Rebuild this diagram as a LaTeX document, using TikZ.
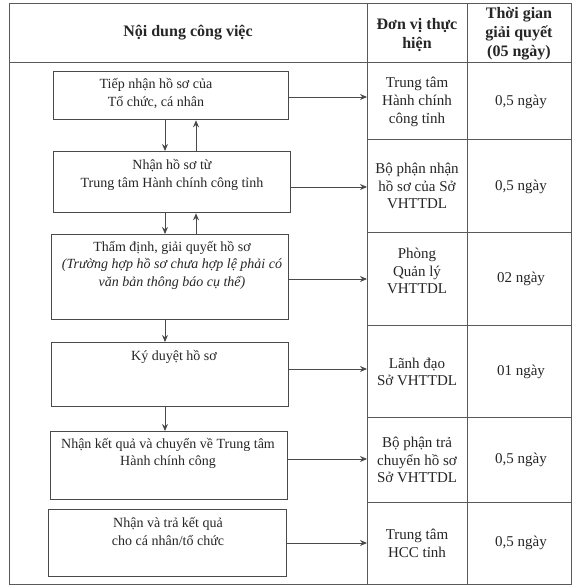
\documentclass[tikz,border=0pt]{standalone}
\usepackage{fontspec}
\setmainfont{Liberation Serif}
\usetikzlibrary{arrows.meta}
\definecolor{linegray}{HTML}{5A5A5A}
\definecolor{boxgray}{HTML}{4A4A4A}
\definecolor{inkc}{HTML}{262626}
\tikzset{
  tline/.style={draw=linegray, line width=0.9pt},
  stepbox/.style={draw=boxgray, line width=1.3pt, rectangle, inner sep=0pt, anchor=north west},
  txt/.style={inner sep=0pt, align=center, text=inkc, font=\fontsize{14}{17.5}\selectfont},
  ctxt/.style={txt, font=\fontsize{15}{17.8}\selectfont},
  htxt/.style={txt, font=\fontsize{16}{19}\selectfont\bfseries},
  arr/.style={draw=boxgray, line width=0.9pt, -{Stealth[length=7pt,width=6pt]}}
}
\begin{document}
\begin{tikzpicture}[x=1pt,y=-1pt]
\useasboundingbox (0,0) rectangle (576,588);
\fill[white] (0,0) rectangle (576,588);
% table frame
\coordinate (tl) at (9,3.5);
\coordinate (br) at (571,584);
\draw[tline] (tl) rectangle (br);
\draw[tline] (9,62) -- (571,62);
\draw[tline] (367,3.5) -- (367,584);
\draw[tline] (467,3.5) -- (467,584);
\foreach \yy in {139,232,325,417,502}{\draw[tline] (367,\yy) -- (571,\yy);}
% headers
\node[htxt] (h1) at (188,33) {Nội dung công việc};
\node[htxt] (h2) at (417,35) {Đơn vị thực\\hiện};
\node[htxt] (h3) at (519,34) {Thời gian\\giải quyết\\(05 ngày)};
% step boxes
\node[stepbox, minimum width=235pt, minimum height=48pt] (b1) at (53,71) {};
\node[stepbox, minimum width=237pt, minimum height=61pt] (b2) at (53,151) {};
\node[stepbox, minimum width=237pt, minimum height=85pt] (b3) at (51,234) {};
\node[stepbox, minimum width=237pt, minimum height=64pt] (b4) at (51,342) {};
\node[stepbox, minimum width=237pt, minimum height=68pt] (b5) at (50,431) {};
\node[stepbox, minimum width=238pt, minimum height=67pt] (b6) at (48,509) {};
% box texts
\node[txt] (t1) at (156,93.5) {Tiếp nhận hồ sơ của\\Tổ chức, cá nhân};
\node[txt] (t2) at (172,175) {Nhận hồ sơ từ\\Trung tâm Hành chính công tỉnh};
\node[txt] (t3) at (172,265) {Thẩm định, giải quyết hồ sơ\\\itshape(Trường hợp hồ sơ chưa hợp lệ phải có\\\itshape văn bản thông báo cụ thể)};
\node[txt] (t4) at (174,357) {Ký duyệt hồ sơ};
\node[txt] (t5) at (168,453.5) {Nhận kết quả và chuyển về Trung tâm\\Hành chính công};
\node[txt] (t6) at (168,531.5) {Nhận và trả kết quả\\cho cá nhân/tổ chức};
% unit column
\node[ctxt] (u1) at (417,102) {Trung tâm\\Hành chính\\công tỉnh};
\node[ctxt] (u2) at (417,186) {Bộ phận nhận\\hồ sơ của Sở\\VHTTDL};
\node[ctxt] (u3) at (417,271) {Phòng\\Quản lý\\VHTTDL};
\node[ctxt] (u4) at (417,372) {Lãnh đạo\\Sở VHTTDL};
\node[ctxt] (u5) at (417,460) {Bộ phận trả\\chuyển hồ sơ\\Sở VHTTDL};
\node[ctxt] (u6) at (417,543) {Trung tâm\\HCC tỉnh};
% time column
\node[ctxt] (d1) at (521,102) {0,5 ngày};
\node[ctxt] (d2) at (521,187) {0,5 ngày};
\node[ctxt] (d3) at (521,279) {02 ngày};
\node[ctxt] (d4) at (521,372) {01 ngày};
\node[ctxt] (d5) at (521,460) {0,5 ngày};
\node[ctxt] (d6) at (521,543) {0,5 ngày};
% arrow end points on the column line
\coordinate (e1) at (367,97);
\coordinate (e2) at (367,187);
\coordinate (e3) at (367,279);
\coordinate (e4) at (367,369);
\coordinate (e5) at (367,459);
\coordinate (e6) at (367,543);
\foreach \i in {1,...,6}{\draw[arr] (b\i.east |- e\i) -- (e\i);}
% vertical arrows
\coordinate (cl) at (165,0);
\coordinate (cr) at (196,0);
\draw[arr] (b1.south -| cl) -- (b2.north -| cl);
\draw[arr] (b2.north -| cr) -- (b1.south -| cr);
\draw[arr] (b2.south -| cl) -- (b3.north -| cl);
\draw[arr] (b3.north -| cr) -- (b2.south -| cr);
\draw[arr] (b3.south -| cl) -- (b4.north -| cl);
\draw[arr] (b4.south -| cl) -- (b5.north -| cl);
\end{tikzpicture}
\end{document}
